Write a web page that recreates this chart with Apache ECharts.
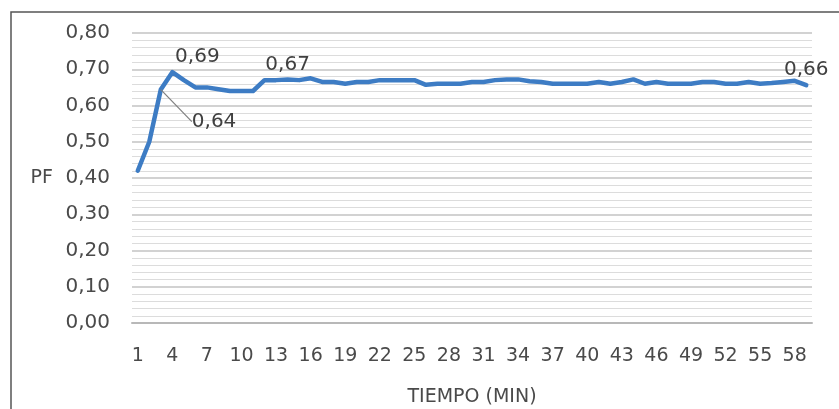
<!DOCTYPE html>
<html>
<head>
<meta charset="utf-8">
<script src="https://cdn.jsdelivr.net/npm/echarts@6/dist/echarts.min.js"></script>
<style>
html,body{margin:0;padding:0;background:#fff;}
#c{width:839px;height:409px;}
</style>
</head>
<body>
<div id="c"></div>
<script>
// Minutes 1..59
const minutes = Array.from({length: 59}, (_, i) => String(i + 1));
// PF values
const pfValues = [
  0.42, 0.50, 0.644, 0.692, 0.67, 0.65, 0.65, 0.645, 0.64, 0.64,
  0.64, 0.67, 0.67, 0.672, 0.67, 0.675, 0.665, 0.665, 0.66, 0.665,
  0.665, 0.67, 0.67, 0.67, 0.67, 0.657, 0.66, 0.66, 0.66, 0.665,
  0.665, 0.67, 0.672, 0.672, 0.667, 0.665, 0.66, 0.66, 0.66, 0.66,
  0.665, 0.66, 0.665, 0.672, 0.66, 0.665, 0.66, 0.66, 0.66, 0.665,
  0.665, 0.66, 0.66, 0.665, 0.66, 0.662, 0.665, 0.668, 0.656
];
// indices of points that carry a data label
const labelledIdx = [2, 3, 13, 58];
const yTicks = {min: 0, max: 0.8, interval: 0.1};

const fmt = v => v.toFixed(2).replace('.', ',');
const FONT = 'DejaVu Sans';
const TXT = '#4a4a4a';

const chart = echarts.init(document.getElementById('c'), null, {renderer: 'canvas'});
chart.setOption({
  animation: false,
  backgroundColor: '#fff',
  grid: {left: 132, right: 27, top: 33, bottom: 86, containLabel: false, outerBoundsMode: 'none'},
  xAxis: {
    type: 'category',
    data: minutes,
    boundaryGap: true,
    name: 'TIEMPO (MIN)',
    nameLocation: 'middle',
    nameGap: 65,
    nameTextStyle: {fontFamily: FONT, fontSize: 19, color: TXT},
    axisLine: {show: true, lineStyle: {color: '#b8b8b8', width: 2}},
    axisTick: {show: false},
    axisLabel: {interval: 2, margin: 24, fontFamily: FONT, fontSize: 19, color: TXT},
    splitLine: {show: false}
  },
  yAxis: {
    type: 'value',
    min: yTicks.min, max: yTicks.max, interval: yTicks.interval,
    name: 'PF',
    nameLocation: 'middle',
    nameRotate: 0,
    nameGap: 79,
    nameTextStyle: {fontFamily: FONT, fontSize: 19, color: TXT},
    axisLine: {show: false},
    axisTick: {show: false},
    axisLabel: {margin: 22, fontFamily: FONT, fontSize: 20, color: TXT,
      formatter: v => fmt(v)},
    splitLine: {show: true, lineStyle: {color: '#c3c3c3', width: 1.5}},
    minorTick: {show: false, splitNumber: 5},
    minorSplitLine: {show: true, lineStyle: {color: '#dcdcdc', width: 1}}
  },
  series: [{
    type: 'line',
    data: pfValues.map((v, i) => labelledIdx.includes(i)
      ? {value: v, label: {show: true, position: i === 2 ? 'right' : 'top'},
         labelLine: {show: i === 2}}
      : v),
    symbol: 'circle',
    symbolSize: 0,
    showSymbol: true,
    lineStyle: {color: '#3d7cc4', width: 4.5, cap: 'round', join: 'round'},
    itemStyle: {color: '#3d7cc4'},
    label: {show: false, fontFamily: FONT, fontSize: 20, color: '#404040',
      formatter: p => fmt(p.value)},
    labelLine: {show: false, length2: 18, minTurnAngle: 0,
      lineStyle: {color: '#7f7f7f', width: 1.2}},
    labelLayout: p => {
      if (p.dataIndex === 3) return {dx: 25};
      if (p.dataIndex === 2) return {dx: 26, dy: 32};
      return {};
    }
  }],
  graphic: [{
    type: 'rect',
    shape: {x: 11, y: 12, width: 900, height: 600},
    style: {fill: null, stroke: '#555', lineWidth: 1.5},
    silent: true, z: -1
  }]
});
</script>
</body>
</html>
